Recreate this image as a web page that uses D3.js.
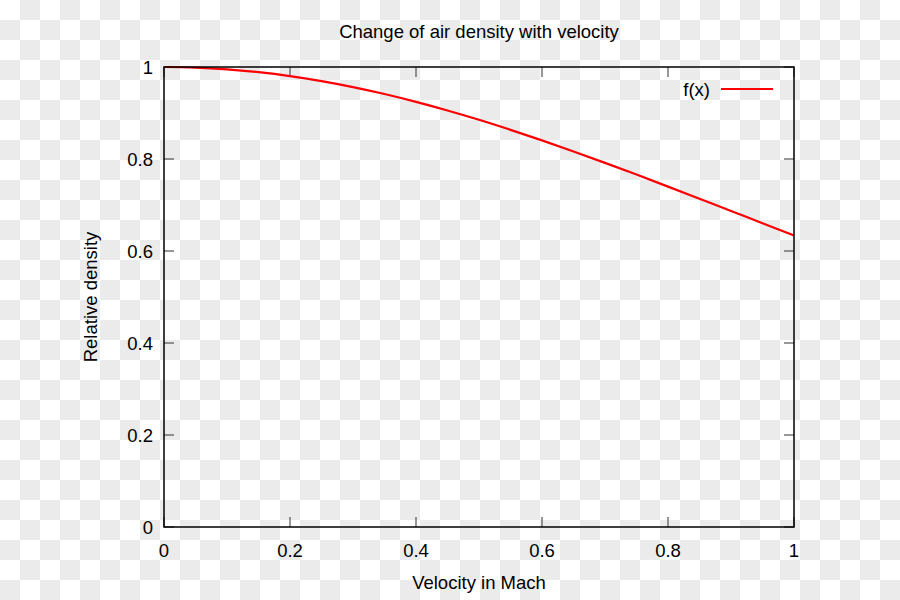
<!DOCTYPE html>
<html><head><meta charset="utf-8">
<script src="https://cdn.jsdelivr.net/npm/d3@7"></script>
<style>body{margin:0;}svg{display:block;}text{font-family:"Liberation Sans",Arial,sans-serif;}</style>
</head><body>
<svg id="c" width="900" height="600"></svg>
<script>
const title = "Change of air density with velocity";
const xLabel = "Velocity in Mach";
const yLabel = "Relative density";
const legendLabel = "f(x)";
const mach = [0,0.05,0.1,0.15,0.2,0.25,0.3,0.35,0.4,0.45,0.5,0.55,0.6,0.65,0.7,0.75,0.8,0.85,0.9,0.95,1.0];
const density = [1,0.9988,0.995,0.9888,0.9803,0.9694,0.9564,0.9413,0.9243,0.9055,0.8852,0.8634,0.8404,0.8164,0.7916,0.7661,0.7400,0.7136,0.6870,0.6605,0.6339];
const xTicks = [0,0.2,0.4,0.6,0.8,1];
const yTicks = [0,0.2,0.4,0.6,0.8,1];

const FS = 18.5;
const svg = d3.select("#c");
// checkerboard background
const defs = svg.append("defs");
const pat = defs.append("pattern").attr("id","chk").attr("width",40).attr("height",40).attr("patternUnits","userSpaceOnUse");
pat.append("rect").attr("width",40).attr("height",40).attr("fill","#ffffff");
pat.append("rect").attr("x",20).attr("y",0).attr("width",20).attr("height",20).attr("fill","#ebebeb");
pat.append("rect").attr("x",0).attr("y",20).attr("width",20).attr("height",20).attr("fill","#ebebeb");
svg.append("rect").attr("width",900).attr("height",600).attr("fill","url(#chk)");

const L=164,R=794,T=67,B=527;
const x = d3.scaleLinear().domain([0,1]).range([L,R]);
const y = d3.scaleLinear().domain([0,1]).range([B,T]);
const tl = 10;
const tickCol = "#333";

const fmt = d => d3.format("")(d);
const g = svg.append("g");
xTicks.forEach(t=>{
  g.append("line").attr("x1",x(t)).attr("x2",x(t)).attr("y1",B).attr("y2",B-tl).attr("stroke",tickCol);
  g.append("line").attr("x1",x(t)).attr("x2",x(t)).attr("y1",T).attr("y2",T+tl).attr("stroke",tickCol);
  g.append("text").attr("x",x(t)).attr("y",557).attr("text-anchor","middle").attr("font-size",FS).attr("fill","#000").text(fmt(t));
});
yTicks.forEach(t=>{
  g.append("line").attr("x1",L).attr("x2",L+tl).attr("y1",y(t)).attr("y2",y(t)).attr("stroke",tickCol);
  g.append("line").attr("x1",R).attr("x2",R-tl).attr("y1",y(t)).attr("y2",y(t)).attr("stroke",tickCol);
  g.append("text").attr("x",153).attr("y",y(t)+6.5).attr("text-anchor","end").attr("font-size",FS).attr("fill","#000").text(fmt(t));
});

const line = d3.line().x((d,i)=>x(mach[i])).y(d=>y(d)).curve(d3.curveMonotoneX);
svg.append("path").datum(density).attr("d",line).attr("fill","none").attr("stroke","#ff0000").attr("stroke-width",2.2);

svg.append("rect").attr("x",L).attr("y",T).attr("width",R-L).attr("height",B-T).attr("fill","none").attr("stroke","#000").attr("stroke-width",1.5);

svg.append("text").attr("x",710).attr("y",96).attr("text-anchor","end").attr("font-size",FS).text(legendLabel);
svg.append("line").attr("x1",721).attr("x2",773).attr("y1",89).attr("y2",89).attr("stroke","#ff0000").attr("stroke-width",2.2);

svg.append("text").attr("x",(L+R)/2).attr("y",38).attr("text-anchor","middle").attr("font-size",FS).text(title);
svg.append("text").attr("x",(L+R)/2).attr("y",589).attr("text-anchor","middle").attr("font-size",FS).text(xLabel);
svg.append("text").attr("transform","translate(97,"+((T+B)/2)+") rotate(-90)").attr("text-anchor","middle").attr("font-size",FS).text(yLabel);
</script>
</body></html>
